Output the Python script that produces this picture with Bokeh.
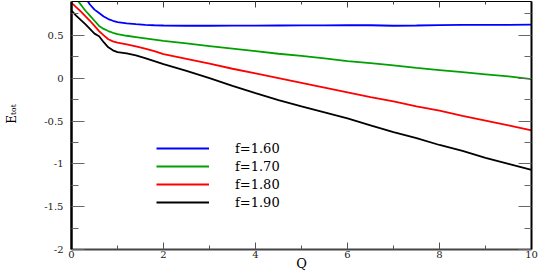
from bokeh.plotting import figure
from bokeh.models import LinearAxis, FixedTicker, Legend, LegendItem, Range1d, CustomJSTickFormatter
from bokeh.embed import file_html
from bokeh.resources import INLINE

# ---- data ----
q = [0.0, 0.1, 0.2, 0.3, 0.4, 0.5, 0.6, 0.7, 0.8, 0.9, 1.0, 1.2, 1.4, 1.6, 1.8, 2.0,
     2.5, 3.0, 3.5, 4.0, 4.5, 5.0, 5.5, 6.0, 6.5, 7.0, 7.5, 8.0, 8.5, 9.0, 9.5, 10.0]
e_160 = [1.20, 1.12, 1.03, 0.94, 0.86, 0.80, 0.76, 0.72, 0.69, 0.67, 0.655, 0.64, 0.63, 0.622, 0.618, 0.615,
         0.612, 0.612, 0.613, 0.614, 0.615, 0.616, 0.617, 0.618, 0.618, 0.612, 0.615, 0.620, 0.621, 0.622, 0.623, 0.624]
e_170 = [1.00, 0.93, 0.86, 0.79, 0.73, 0.67, 0.61, 0.575, 0.55, 0.53, 0.515, 0.495, 0.48, 0.465, 0.45, 0.435,
         0.405, 0.375, 0.345, 0.315, 0.285, 0.26, 0.23, 0.20, 0.175, 0.15, 0.12, 0.095, 0.07, 0.045, 0.02, -0.01]
e_180 = [0.88, 0.83, 0.78, 0.725, 0.67, 0.61, 0.55, 0.50, 0.455, 0.43, 0.415, 0.395, 0.37, 0.345, 0.315, 0.28,
         0.225, 0.17, 0.11, 0.055, 0.0, -0.055, -0.11, -0.165, -0.22, -0.27, -0.33, -0.38, -0.44, -0.495, -0.55, -0.61]
e_190 = [0.79, 0.73, 0.68, 0.63, 0.575, 0.52, 0.49, 0.42, 0.36, 0.325, 0.305, 0.29, 0.265, 0.235, 0.20, 0.165,
         0.085, 0.0, -0.09, -0.175, -0.255, -0.33, -0.40, -0.47, -0.55, -0.63, -0.70, -0.78, -0.85, -0.93, -1.00, -1.07]

series = [e_160, e_170, e_180, e_190]
series_labels = ["f=1.60", "f=1.70", "f=1.80", "f=1.90"]
series_colors = ["#0000ff", "#00a000", "#ff0000", "#000000"]

x_ticks = [0, 2, 4, 6, 8, 10]
x_minor = [1, 3, 5, 7, 9]
x_tick_labels = ["0", "2", "4", "6", "8", "10"]
y_ticks = [-2, -1.5, -1, -0.5, 0, 0.5]
y_minor = [-1.75, -1.25, -0.75, -0.25, 0.25, 0.75]
y_tick_labels = ["-2", "-1.5", "-1", "-0.5", "0", "0.5"]
x_title = "Q"
y_title = "\u00a0" * 6 + "E\u209c\u2092\u209c"

FONT = "DejaVu Serif"

p = figure(width=545, height=273, output_backend="svg", toolbar_location=None,
           x_range=Range1d(0, 10), y_range=Range1d(-2, 0.895),
           min_border_left=71, min_border_right=14, min_border_top=1, min_border_bottom=23)
p.xgrid.visible = False
p.ygrid.visible = False
p.outline_line_color = None
p.background_fill_color = "white"
p.border_fill_color = "white"

renderers = []
for vals, col in zip(series, series_colors):
    r = p.line(q, vals, line_color=col, line_width=1.8)
    renderers.append(r)

xt = FixedTicker(ticks=x_ticks, minor_ticks=x_minor)
yt = FixedTicker(ticks=y_ticks, minor_ticks=y_minor)

# bottom axis
xa = p.xaxis[0]
xa.ticker = xt
xa.major_label_overrides = dict(zip(x_ticks, x_tick_labels))
xa.major_tick_in = 7
xa.major_tick_out = 0
xa.minor_tick_in = 4
xa.minor_tick_out = 0
xa.major_tick_line_color = "#555555"
xa.minor_tick_line_color = "#555555"
xa.axis_line_color = "#444444"
xa.axis_line_width = 2
xa.major_label_standoff = 1
xa.major_label_text_font = FONT
xa.major_label_text_font_size = "10px"
xa.major_label_text_color = "#222222"
xa.axis_label = x_title
xa.axis_label_text_font = FONT
xa.axis_label_text_font_size = "13px"
xa.axis_label_text_font_style = "normal"
xa.axis_label_text_color = "black"
xa.axis_label_standoff = -5

# left axis
ya = p.yaxis[0]
ya.ticker = yt
ya.major_label_overrides = dict(zip(y_ticks, y_tick_labels))
ya.major_tick_in = 13
ya.major_tick_out = 0
ya.minor_tick_in = 7
ya.minor_tick_out = 0
ya.major_tick_line_color = "#666666"
ya.minor_tick_line_color = "#666666"
ya.axis_line_color = "black"
ya.axis_line_width = 2.5
ya.major_label_standoff = 8
ya.major_label_text_font = FONT
ya.major_label_text_font_size = "10px"
ya.major_label_text_color = "#222222"
ya.axis_label = y_title
ya.axis_label_text_font = FONT
ya.axis_label_text_font_size = "12px"
ya.axis_label_text_font_style = "normal"
ya.axis_label_text_color = "black"
ya.axis_label_standoff = 22

blank = CustomJSTickFormatter(code="return ''")

# top axis
ta = LinearAxis(ticker=xt, formatter=blank, major_tick_in=6, major_tick_out=0, minor_tick_in=3, minor_tick_out=0,
                major_label_text_font_size="0px", major_label_standoff=0,
                axis_line_color="black", axis_line_width=1,
                major_tick_line_color="#444444", minor_tick_line_color="#444444")
p.add_layout(ta, "above")

# right axis
ra = LinearAxis(ticker=yt, formatter=blank, major_tick_in=13, major_tick_out=0, minor_tick_in=7, minor_tick_out=0,
                major_label_text_font_size="0px", major_label_standoff=0,
                axis_line_color="black", axis_line_width=2,
                major_tick_line_color="#666666", minor_tick_line_color="#666666")
p.add_layout(ra, "right")

legend = Legend(items=[LegendItem(label=lab, renderers=[r]) for lab, r in zip(series_labels, renderers)],
                location=(85, 38), padding=0, margin=0, spacing=0,
                glyph_width=53, glyph_height=18, label_height=18, label_standoff=26,
                label_text_font=FONT, label_text_font_size="13px", label_text_color="black",
                border_line_color=None, background_fill_alpha=0)
p.add_layout(legend, "center")

open("out.html", "w").write(file_html(p, INLINE))
